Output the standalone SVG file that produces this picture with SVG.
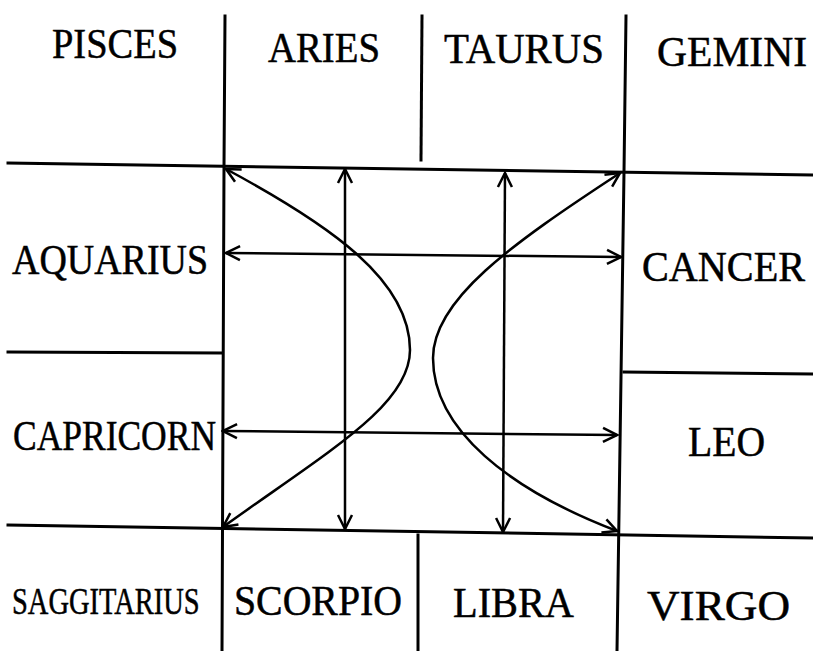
<svg xmlns="http://www.w3.org/2000/svg" width="813" height="651" viewBox="0 0 813 651">
<style>
.ln{stroke:#000;stroke-width:3;fill:none;stroke-linecap:square}
.ar{stroke:#000;stroke-width:2.5;fill:none}
.lb{font-family:'Liberation Serif','Times New Roman','DejaVu Serif',serif;font-size:42px;fill:#000;stroke:#000;stroke-width:0.5}
</style>
<defs>
<marker id="ah" viewBox="0 0 20 20" refX="18" refY="10" markerWidth="20" markerHeight="20" markerUnits="userSpaceOnUse" orient="auto-start-reverse">
<path d="M4,3 L18,10 L4,17" fill="none" stroke="#000" stroke-width="2.5"/>
</marker>
</defs>
<rect width="813" height="651" fill="#fff"/>
<g id="grid">
<path class="ln" d="M8,163 L813,175"/>
<path class="ln" d="M8,525 L813,538"/>
<path class="ln" d="M225,16 L224,167 L222,651"/>
<path class="ln" d="M422,16 L421,160"/>
<path class="ln" d="M626,16 L624,172 L617,651"/>
<path class="ln" d="M418,535 L418,651"/>
<path class="ln" d="M8,352 L222,353"/>
<path class="ln" d="M624,372 L813,374"/>
</g>
<g id="connectors">
<path class="ar" d="M345,169 L345,529" marker-start="url(#ah)" marker-end="url(#ah)"/>
<path class="ar" d="M505,173 L503,532" marker-start="url(#ah)" marker-end="url(#ah)"/>
<path class="ar" d="M226,253 L621,257" marker-start="url(#ah)" marker-end="url(#ah)"/>
<path class="ar" d="M223,431 L617,435" marker-start="url(#ah)" marker-end="url(#ah)"/>
<path class="ar" d="M226,169 C330,225 410,280 410,350 C410,405 330,450 223,527" marker-start="url(#ah)" marker-end="url(#ah)"/>
<path class="ar" d="M620,173 C510,245 433,300 433,358 C433,430 510,490 617,531" marker-start="url(#ah)" marker-end="url(#ah)"/>
</g>
<g id="pisces"><text class="lb" x="52" y="58" textLength="126" lengthAdjust="spacingAndGlyphs">PISCES</text></g>
<g id="aries"><text class="lb" x="268" y="62" textLength="112" lengthAdjust="spacingAndGlyphs">ARIES</text></g>
<g id="taurus"><text class="lb" x="444" y="63" textLength="160" lengthAdjust="spacingAndGlyphs">TAURUS</text></g>
<g id="gemini"><text class="lb" x="657" y="66" textLength="150" lengthAdjust="spacingAndGlyphs">GEMINI</text></g>
<g id="aquarius"><text class="lb" x="12" y="274" textLength="196" lengthAdjust="spacingAndGlyphs">AQUARIUS</text></g>
<g id="cancer"><text class="lb" x="642" y="281" textLength="163" lengthAdjust="spacingAndGlyphs">CANCER</text></g>
<g id="capricorn"><text class="lb" x="13" y="450" textLength="203" lengthAdjust="spacingAndGlyphs">CAPRICORN</text></g>
<g id="leo"><text class="lb" x="688" y="456" textLength="77" lengthAdjust="spacingAndGlyphs">LEO</text></g>
<g id="saggitarius"><text class="lb" transform="translate(12,614) scale(0.75,1)" x="0" y="0" style="font-size:38px">SAGGITARIUS</text></g>
<g id="scorpio"><text class="lb" x="234" y="615" textLength="168" lengthAdjust="spacingAndGlyphs">SCORPIO</text></g>
<g id="libra"><text class="lb" x="453" y="617" textLength="121" lengthAdjust="spacingAndGlyphs">LIBRA</text></g>
<g id="virgo"><text class="lb" x="647" y="620" textLength="143" lengthAdjust="spacingAndGlyphs">VIRGO</text></g>
</svg>
